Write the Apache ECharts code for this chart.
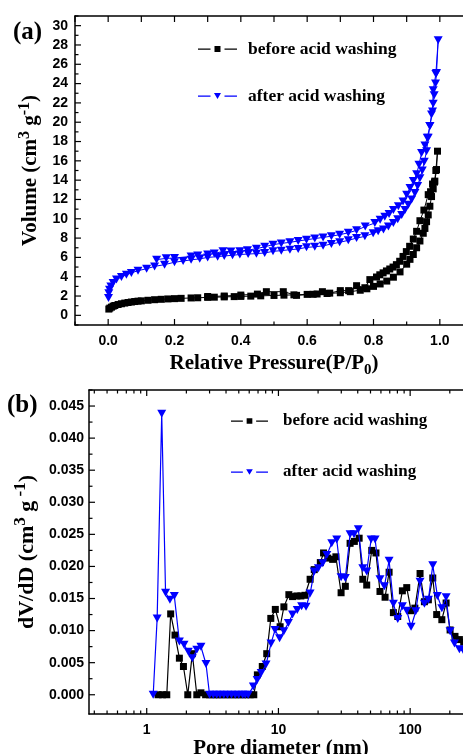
<!DOCTYPE html>
<html>
<head>
<meta charset="utf-8">
<script src="https://cdn.jsdelivr.net/npm/echarts@6/dist/echarts.min.js"></script>
<style>
html,body{margin:0;padding:0;background:#fff;}
#chart{width:463px;height:754px;}
</style>
</head>
<body>
<div id="chart"></div>
<script>
// ---------- series names ----------
const nameBefore = 'before acid washing';
const nameAfter = 'after acid washing';

// ---------- (a) N2 isotherm: relative pressure vs adsorbed volume ----------
// before acid washing: adsorption branch followed by desorption branch
const isoBeforeP = [0.002,0.005,0.01,0.015,0.02,0.03,0.04,0.05,0.06,0.07,0.08,0.09,0.1,0.12,0.14,0.16,0.18,0.2,0.22,0.25,0.27,0.3,0.32,0.35,0.38,0.4,0.43,0.46,0.5,0.53,0.56,0.6,0.63,0.66,0.7,0.73,0.76,0.78,0.8,0.82,0.84,0.86,0.88,0.9,0.91,0.92,0.93,0.94,0.95,0.955,0.96,0.965,0.97,0.975,0.98,0.985,0.99,0.993,
  0.988,0.984,0.978,0.972,0.965,0.952,0.94,0.93,0.92,0.909,0.899,0.889,0.879,0.869,0.859,0.849,0.839,0.829,0.819,0.809,0.789,0.774,0.749,0.725,0.70,0.668,0.646,0.618,0.568,0.528,0.477,0.45,0.4,0.35,0.3];
const isoBeforeV = [0.65,0.75,0.85,0.95,1.02,1.12,1.2,1.27,1.33,1.38,1.43,1.47,1.5,1.56,1.62,1.66,1.7,1.73,1.76,1.8,1.82,1.86,1.88,1.91,1.94,1.96,1.99,2.02,2.06,2.09,2.12,2.17,2.21,2.26,2.34,2.45,2.6,2.75,3.0,3.25,3.55,3.95,4.5,5.3,5.8,6.3,7.0,7.7,8.5,9.0,9.7,10.4,11.3,12.3,13.1,13.9,15.1,17.0,
  15.0,13.8,13.6,12.8,12.5,10.9,9.8,8.7,7.9,7.15,6.6,6.1,5.6,5.25,5.0,4.8,4.6,4.4,4.2,3.97,3.7,2.86,3.07,2.56,2.56,2.3,2.45,2.18,2.07,2.45,2.45,2.2,2.1,2.0,1.95];

// after acid washing: adsorption branch followed by desorption branch
const isoAfterP = [0.001,0.002,0.004,0.008,0.015,0.025,0.04,0.055,0.07,0.09,0.116,0.14,0.17,0.2,0.226,0.25,0.276,0.3,0.33,0.35,0.375,0.397,0.422,0.447,0.472,0.497,0.522,0.548,0.573,0.598,0.623,0.648,0.673,0.698,0.724,0.749,0.774,0.799,0.814,0.83,0.845,0.86,0.873,0.885,0.895,0.905,0.915,0.925,0.933,0.94,0.947,0.953,0.96,0.965,0.97,0.975,0.98,0.983,0.987,0.99,0.995,
  0.988,0.98,0.978,0.97,0.962,0.955,0.945,0.937,0.93,0.92,0.91,0.9,0.889,0.875,0.86,0.847,0.834,0.82,0.804,0.775,0.749,0.724,0.698,0.673,0.648,0.623,0.598,0.573,0.548,0.522,0.497,0.472,0.447,0.42,0.397,0.37,0.346,0.32,0.3,0.27,0.25,0.2,0.175,0.146];
const isoAfterV = [1.8,2.3,2.66,3.0,3.35,3.7,3.97,4.2,4.39,4.63,4.83,5.07,5.25,5.5,5.62,5.75,5.85,6.0,6.08,6.15,6.22,6.3,6.35,6.39,6.46,6.63,6.7,6.8,6.87,7.04,7.1,7.2,7.39,7.56,7.77,8.0,8.18,8.5,8.7,8.9,9.2,9.56,9.95,10.4,10.9,11.46,12.0,12.67,13.4,14.2,15.0,15.9,17.0,18.4,19.6,20.8,21.9,22.8,24.0,25.1,28.5,
  25.0,23.3,21.1,19.6,18.4,17.6,16.8,15.6,14.6,13.9,13.2,12.5,11.8,11.3,10.9,10.5,10.2,9.9,9.56,9.2,8.8,8.55,8.35,8.2,8.07,7.95,7.83,7.7,7.56,7.45,7.32,7.1,6.9,6.75,6.63,6.6,6.63,6.4,6.3,6.2,6.1,5.94,5.9,5.77];

// ---------- (b) pore size distribution ----------
const psdBeforeD = [1.22,1.32,1.42,1.52,1.64,1.77,1.90,2.05,2.22,2.40,2.58,2.80,3.0,3.2,3.4,3.6,3.85,4.1,4.4,4.7,5.0,5.35,5.7,6.1,6.5,6.92,7.54,8.15,8.75,9.47,10.3,11.0,12.0,12.8,13.8,14.8,15.9,17.4,18.7,20.8,22.0,23.7,25.8,27.3,29.9,32.2,35.0,37.7,41.0,43.7,46.8,51.1,55.0,59.0,64.5,69.2,74.6,80.5,87.3,94.2,101.6,108.6,118.9,128.3,137.5,148.5,159,174,187.5,201,219,236.6,255,275];
const psdBeforeV = [0,0,0,0.0126,0.0093,0.0057,0.0044,0,0.0064,0,0.0003,0,0,0,0,0,0,0,0,0,0,0,0,0,0,0.0031,0.0044,0.0064,0.0119,0.0133,0.0106,0.0137,0.0156,0.0153,0.0154,0.0154,0.0155,0.018,0.0195,0.0206,0.0221,0.0213,0.0211,0.0215,0.0159,0.0169,0.0236,0.0239,0.0244,0.018,0.0171,0.0225,0.0221,0.0161,0.0152,0.0191,0.0128,0.0122,0.0162,0.0167,0.0131,0.0135,0.0189,0.0145,0.0148,0.0182,0.0125,0.0117,0.0143,0.0101,0.0091,0.0086,0.0082,0.0078];

const psdAfterD = [1.12,1.20,1.30,1.39,1.50,1.62,1.77,1.92,2.07,2.22,2.40,2.58,2.82,3.0,3.2,3.4,3.6,3.85,4.1,4.4,4.7,5.0,5.35,5.6,5.9,6.45,6.9,7.4,8.05,8.79,9.42,10.2,11.0,11.9,12.8,13.9,15.0,16.2,17.4,18.7,20.1,21.7,23.3,25.4,27.7,29.9,32.2,35.0,37.5,40.4,43.7,46.8,50.5,54.2,59.0,63.7,69.2,74.6,80.5,87.3,94.2,101.6,110.3,118.9,128.3,137.5,148.5,161,174,187.5,201,217,236.6,255,275];
const psdAfterV = [0,0.0119,0.0438,0.0159,0.0148,0.0154,0.0083,0.0078,0.0067,0.0057,0.0070,0.0075,0.0048,0,0,0,0,0,0,0,0,0,0,0,0,0.0013,0.0023,0.0034,0.0047,0.008,0.0101,0.0088,0.0099,0.0112,0.0125,0.0132,0.0138,0.0137,0.0158,0.0192,0.0197,0.0205,0.0218,0.0236,0.0242,0.0183,0.0182,0.025,0.025,0.0258,0.0197,0.0192,0.0242,0.0242,0.018,0.0169,0.0209,0.0142,0.0118,0.0138,0.0131,0.0106,0.013,0.0176,0.0142,0.0148,0.0202,0.0154,0.0135,0.0152,0.0099,0.008,0.0071,0.0068,0.0066];

// ---------- axis ranges and tick labels ----------
const rangeA = {xMin: -0.1, xMax: 1.1, yMin: -1, yMax: 31};
const rangeB = {xMin: 0.3646, xMax: 300, yMin: -0.003, yMax: 0.0475};
const xLabelsA = ['0.0','0.2','0.4','0.6','0.8','1.0'];
const yLabelsA = ['0','2','4','6','8','10','12','14','16','18','20','22','24','26','28','30'];
const xLabelsB = ['1','10','100'];
const yLabelsB = ['0.000','0.005','0.010','0.015','0.020','0.025','0.030','0.035','0.040','0.045'];

// ---------- helpers ----------
const zip = (xs, ys) => xs.map((x, i) => [x, ys[i]]);
const BLUE = '#0000ff';
const tickFont = {fontFamily: 'Liberation Sans', fontWeight: 'bold', fontSize: 14, color: '#000'};
const serifBold = (size) => ({fontFamily: 'Liberation Serif', fontWeight: 'bold', fontSize: size, color: '#000'});

// tick marks: [x, y, side(0 bottom,1 top,2 left), major]
function ticksA() {
  const out = [];
  for (let k = -1; k <= 11; k++) {
    const v = k / 10;
    const major = xLabelsA.indexOf(v.toFixed(1)) >= 0 ? 1 : 0;
    out.push([v, rangeA.yMin, 0, major]);
    out.push([v, rangeA.yMax, 1, 1]);
  }
  for (let v = rangeA.yMin; v <= rangeA.yMax; v++) {
    out.push([rangeA.xMin, v, 2, yLabelsA.indexOf(String(v)) >= 0 ? 1 : 0]);
  }
  return out;
}
function ticksB() {
  const out = [];
  [0.1, 1, 10, 100].forEach(dec => {
    for (let m = 1; m <= 9; m++) {
      const v = +(m * dec).toPrecision(6);
      if (v < rangeB.xMin || v > rangeB.xMax) continue;
      out.push([v, rangeB.yMin, 0, m === 1 ? 1 : 0]);
      out.push([v, rangeB.yMax, 1, m === 1 ? 1 : 0]);
    }
  });
  for (let k = 0; k * 0.0025 <= rangeB.yMax + 1e-9; k++) {
    const v = +(k * 0.0025).toFixed(4);
    out.push([rangeB.xMin, v, 2, yLabelsB.indexOf(v.toFixed(3)) >= 0 ? 1 : 0]);
  }
  return out;
}
function renderTick(params, api) {
  const side = api.value(2);
  const len = api.value(3) ? 6 : 3.5;
  const p = api.coord([api.value(0), api.value(1)]);
  let x2 = p[0], y2 = p[1];
  if (side === 0) y2 = p[1] - len;
  else if (side === 1) y2 = p[1] + len;
  else x2 = p[0] + len;
  return {type: 'line', shape: {x1: p[0], y1: p[1], x2: x2, y2: y2}, style: {stroke: '#000', lineWidth: 1.2}};
}

const iconSquare = 'path://M0,3L12.5,3L12.5,4.2L0,4.2Z M16.5,0.5L22.5,0.5L22.5,6.5L16.5,6.5Z M26.5,3L39,3L39,4.2L26.5,4.2Z M0,0L0.01,0Z M39,7L39.01,7Z';
const iconTriangle = 'path://M0,3L12.5,3L12.5,4.2L0,4.2Z M16,0.5L23,0.5L19.5,6.5Z M26.5,3L39,3L39,4.2L26.5,4.2Z M0,0L0.01,0Z M39,7L39.01,7Z';

const axisLineStyle = {show: true, onZero: false, lineStyle: {color: '#000', width: 1.5}};
const supRich = (big, small) => ({
  t: Object.assign(serifBold(big), {lineHeight: big + 8}),
  s: Object.assign(serifBold(small), {lineHeight: small, verticalAlign: 'top'}),
  b: Object.assign(serifBold(small), {lineHeight: small, verticalAlign: 'bottom'})
});

const chart = echarts.init(document.getElementById('chart'), null, {renderer: 'canvas'});

const option = {
  animation: false,
  backgroundColor: '#fff',
  grid: [
    {left: 75, top: 16, right: -10, bottom: 429, outerBoundsMode: 'none', containLabel: false},
    {left: 89, top: 390, right: -10, bottom: 40, outerBoundsMode: 'none', containLabel: false}
  ],
  xAxis: [
    {
      gridIndex: 0, type: 'value', position: 'bottom',
      min: rangeA.xMin, max: rangeA.xMax, interval: 0.1,
      axisLine: axisLineStyle, axisTick: {show: false}, splitLine: {show: false},
      axisLabel: Object.assign({margin: 9, formatter: v => {
        const s = (Math.round(v * 10) / 10).toFixed(1);
        return xLabelsA.indexOf(s) >= 0 ? s : '';
      }}, tickFont),
      name: '{t|Relative Pressure(P/P}{b|0}{t|)}',
      nameLocation: 'middle', nameGap: 24,
      nameTextStyle: Object.assign(serifBold(21), {rich: supRich(21, 15)})
    },
    {
      gridIndex: 0, type: 'value', position: 'top',
      min: rangeA.xMin, max: rangeA.xMax, interval: 0.1,
      axisLine: axisLineStyle, axisTick: {show: false}, axisLabel: {show: false}, splitLine: {show: false}
    },
    {
      gridIndex: 1, type: 'log', logBase: 10, position: 'bottom',
      min: rangeB.xMin, max: rangeB.xMax,
      axisLine: axisLineStyle, axisTick: {show: false}, splitLine: {show: false}, minorTick: {show: false},
      axisLabel: Object.assign({margin: 9, showMinLabel: false, showMaxLabel: false, formatter: v => {
        const s = String(Math.round(v));
        return (Math.abs(v - Math.round(v)) < 1e-6 && xLabelsB.indexOf(s) >= 0) ? s : '';
      }}, tickFont),
      name: 'Pore diameter (nm)',
      nameLocation: 'middle', nameGap: 16,
      nameTextStyle: serifBold(21)
    },
    {
      gridIndex: 1, type: 'log', logBase: 10, position: 'top',
      min: rangeB.xMin, max: rangeB.xMax,
      axisLine: axisLineStyle, axisTick: {show: false}, axisLabel: {show: false}, splitLine: {show: false}
    }
  ],
  yAxis: [
    {
      gridIndex: 0, type: 'value',
      min: rangeA.yMin, max: rangeA.yMax, interval: 1,
      axisLine: axisLineStyle, axisTick: {show: false}, splitLine: {show: false},
      axisLabel: Object.assign({margin: 7, formatter: v => {
        const s = String(Math.round(v));
        return yLabelsA.indexOf(s) >= 0 ? s : '';
      }}, tickFont),
      name: '{t|Volume (cm}{s|3}{t| g}{s|-1}{t|)}',
      nameLocation: 'middle', nameGap: 26,
      nameTextStyle: Object.assign(serifBold(21), {rich: supRich(21, 16)})
    },
    {
      gridIndex: 1, type: 'value',
      min: rangeB.yMin, max: rangeB.yMax, interval: 0.0005,
      axisLine: axisLineStyle, axisTick: {show: false}, splitLine: {show: false},
      axisLabel: Object.assign({margin: 5, formatter: v => {
        const k = Math.round(v * 10000);
        if (k % 50 !== 0) return '';
        const s = (k / 10000).toFixed(3);
        return yLabelsB.indexOf(s) >= 0 ? s : '';
      }}, tickFont),
      name: '{t|dV/dD (cm}{s|3}{t| g}{s| -1}{t|)}',
      nameLocation: 'middle', nameGap: 44,
      nameTextStyle: Object.assign(serifBold(22), {rich: supRich(22, 17)})
    }
  ],
  legend: [
    {
      left: 193, top: 34, orient: 'vertical', itemWidth: 39, itemHeight: 7, itemGap: 27,
      textStyle: Object.assign(serifBold(17.5), {lineHeight: 20, padding: [0, 0, 0, 6]}),
      data: [{name: nameBefore, icon: iconSquare}, {name: nameAfter, icon: iconTriangle}],
      selectedMode: false
    },
    {
      left: 226, top: 406, orient: 'vertical', itemWidth: 37, itemHeight: 7, itemGap: 31,
      textStyle: Object.assign(serifBold(17), {lineHeight: 20, padding: [0, 0, 0, 10]}),
      data: [{name: nameBefore, icon: iconSquare}, {name: nameAfter, icon: iconTriangle}],
      selectedMode: false
    }
  ],
  graphic: [
    {type: 'text', left: 13, top: 20, style: {text: '(a)', font: 'bold 25px "Liberation Serif"', fill: '#000'}},
    {type: 'text', left: 7, top: 393, style: {text: '(b)', font: 'bold 25px "Liberation Serif"', fill: '#000'}}
  ],
  series: [
    {
      name: nameBefore, type: 'line', xAxisIndex: 0, yAxisIndex: 0,
      data: zip(isoBeforeP, isoBeforeV),
      symbol: 'rect', symbolSize: 7,
      lineStyle: {color: '#000', width: 1}, itemStyle: {color: '#000'}, z: 3
    },
    {
      name: nameAfter, type: 'line', xAxisIndex: 0, yAxisIndex: 0,
      data: zip(isoAfterP, isoAfterV),
      symbol: 'triangle', symbolRotate: 180, symbolSize: [9, 8],
      lineStyle: {color: BLUE, width: 1}, itemStyle: {color: BLUE}, z: 4
    },
    {
      name: nameBefore, type: 'line', xAxisIndex: 2, yAxisIndex: 1,
      data: zip(psdBeforeD, psdBeforeV),
      symbol: 'rect', symbolSize: 7,
      lineStyle: {color: '#000', width: 1.2}, itemStyle: {color: '#000'}, z: 3
    },
    {
      name: nameAfter, type: 'line', xAxisIndex: 2, yAxisIndex: 1,
      data: zip(psdAfterD, psdAfterV),
      symbol: 'triangle', symbolRotate: 180, symbolSize: [9, 8],
      lineStyle: {color: BLUE, width: 1.2}, itemStyle: {color: BLUE}, z: 4
    },
    {
      type: 'custom', xAxisIndex: 0, yAxisIndex: 0, silent: true, z: 10,
      renderItem: renderTick, data: ticksA(), encode: {x: 0, y: 1}
    },
    {
      type: 'custom', xAxisIndex: 2, yAxisIndex: 1, silent: true, z: 10,
      renderItem: renderTick, data: ticksB(), encode: {x: 0, y: 1}
    }
  ]
};

chart.setOption(option);
</script>
</body>
</html>
